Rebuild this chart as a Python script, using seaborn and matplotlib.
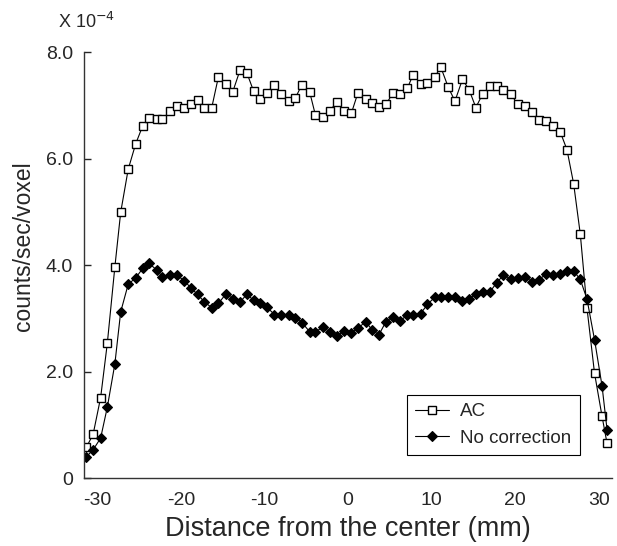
import matplotlib
matplotlib.use('Agg')
import matplotlib.pyplot as plt
import seaborn as sns
import pandas as pd

# distance from the center (mm), one value per voxel
distance = [-31.3, -30.5, -29.6, -28.8, -27.9, -27.2, -26.3, -25.4, -24.55, -23.8,
            -22.9, -22.2, -21.3, -20.5, -19.6, -18.8, -18.0, -17.2, -16.3, -15.5,
            -14.6, -13.8, -12.9, -12.1, -11.3, -10.5, -9.7, -8.8, -8.0, -7.1,
            -6.3, -5.5, -4.6, -3.9, -3.0, -2.2, -1.3, -0.5, 0.4, 1.2,
            2.1, 2.9, 3.7, 4.55, 5.4, 6.2, 7.1, 7.8, 8.7, 9.5,
            10.4, 11.1, 12.0, 12.8, 13.7, 14.5, 15.3, 16.1, 17.0, 17.8,
            18.6, 19.5, 20.3, 21.2, 22.0, 22.8, 23.7, 24.5, 25.4, 26.2,
            27.0, 27.8, 28.6, 29.5, 30.4, 31.0]

# counts/sec/voxel (x 10^-4)
ac = [0.58, 0.82, 1.51, 2.53, 3.96, 4.99, 5.80, 6.28, 6.62, 6.77,
      6.74, 6.74, 6.89, 6.99, 6.95, 7.02, 7.10, 6.96, 6.96, 7.54,
      7.41, 7.25, 7.67, 7.61, 7.27, 7.12, 7.24, 7.39, 7.21, 7.09,
      7.14, 7.39, 7.26, 6.82, 6.78, 6.90, 7.06, 6.89, 6.85, 7.24,
      7.12, 7.04, 6.97, 7.02, 7.24, 7.22, 7.32, 7.58, 7.40, 7.42,
      7.54, 7.72, 7.34, 7.08, 7.49, 7.29, 6.96, 7.21, 7.36, 7.36,
      7.29, 7.21, 7.02, 6.99, 6.88, 6.72, 6.70, 6.62, 6.50, 6.17,
      5.53, 4.58, 3.19, 1.97, 1.16, 0.65]

no_correction = [0.40, 0.53, 0.75, 1.33, 2.14, 3.12, 3.64, 3.76, 3.94, 4.03,
                 3.91, 3.78, 3.81, 3.81, 3.71, 3.57, 3.45, 3.31, 3.20, 3.28,
                 3.46, 3.37, 3.31, 3.45, 3.34, 3.28, 3.21, 3.07, 3.07, 3.06,
                 3.01, 2.92, 2.75, 2.75, 2.83, 2.75, 2.67, 2.76, 2.73, 2.81,
                 2.94, 2.78, 2.69, 2.94, 3.03, 2.95, 3.06, 3.06, 3.09, 3.26,
                 3.40, 3.40, 3.40, 3.40, 3.33, 3.36, 3.46, 3.50, 3.50, 3.67,
                 3.81, 3.74, 3.75, 3.78, 3.69, 3.72, 3.83, 3.81, 3.84, 3.89,
                 3.89, 3.73, 3.36, 2.60, 1.73, 0.91]

x_ticks = [-30, -20, -10, 0, 10, 20, 30]
y_ticks = [0, 2, 4, 6, 8]
y_ticklabels = ['0', '2.0', '4.0', '6.0', '8.0']

sns.set_style('ticks')
plt.rcParams['font.family'] = ['Liberation Sans', 'DejaVu Sans']
plt.rcParams['axes.unicode_minus'] = False

fig = plt.figure(figsize=(6.17, 5.46), dpi=100)
ax = fig.add_axes([0.136, 0.1245, 0.856, 0.780])

df = pd.DataFrame({'x': distance, 'ac': ac, 'nc': no_correction})

sns.lineplot(data=df, x='x', y='ac', ax=ax, color='black', lw=0.8,
             marker='s', ms=6, markerfacecolor='white',
             markeredgecolor='black', markeredgewidth=1.0, label='AC')
sns.lineplot(data=df, x='x', y='nc', ax=ax, color='black', lw=0.8,
             marker='D', ms=5, markerfacecolor='black',
             markeredgecolor='black', markeredgewidth=0.8,
             label='No correction')

ax.set_xlim(-31.6, 31.6)
ax.set_ylim(0, 8.0)
ax.set_xticks(x_ticks)
ax.set_yticks(y_ticks)
ax.set_yticklabels(y_ticklabels)
ax.tick_params(axis='x', length=0, pad=10, labelsize=14)
ax.tick_params(axis='y', direction='in', length=5, width=1, pad=8, labelsize=14)

sns.despine(ax=ax)
for side in ['left', 'bottom']:
    ax.spines[side].set_color('#333333')
    ax.spines[side].set_linewidth(1.0)

ax.set_xlabel('Distance from the center (mm)', fontsize=19.5, labelpad=5)
ax.set_ylabel('counts/sec/voxel', fontsize=16.5, labelpad=4)
ax.yaxis.set_label_coords(-0.092, 0.545)

ax.text(-0.05, 1.07, 'X 10$^{-4}$', transform=ax.transAxes, fontsize=13,
        ha='left', va='center')

leg = ax.legend(loc='lower right', bbox_to_anchor=(0.939, 0.054),
                borderaxespad=0, frameon=True, fancybox=False,
                edgecolor='black', framealpha=1, fontsize=13.5,
                handlelength=1.8, handletextpad=0.6,
                borderpad=0.45, labelspacing=0.5)
leg.get_frame().set_linewidth(0.8)

plt.savefig('out.png', dpi=100)
